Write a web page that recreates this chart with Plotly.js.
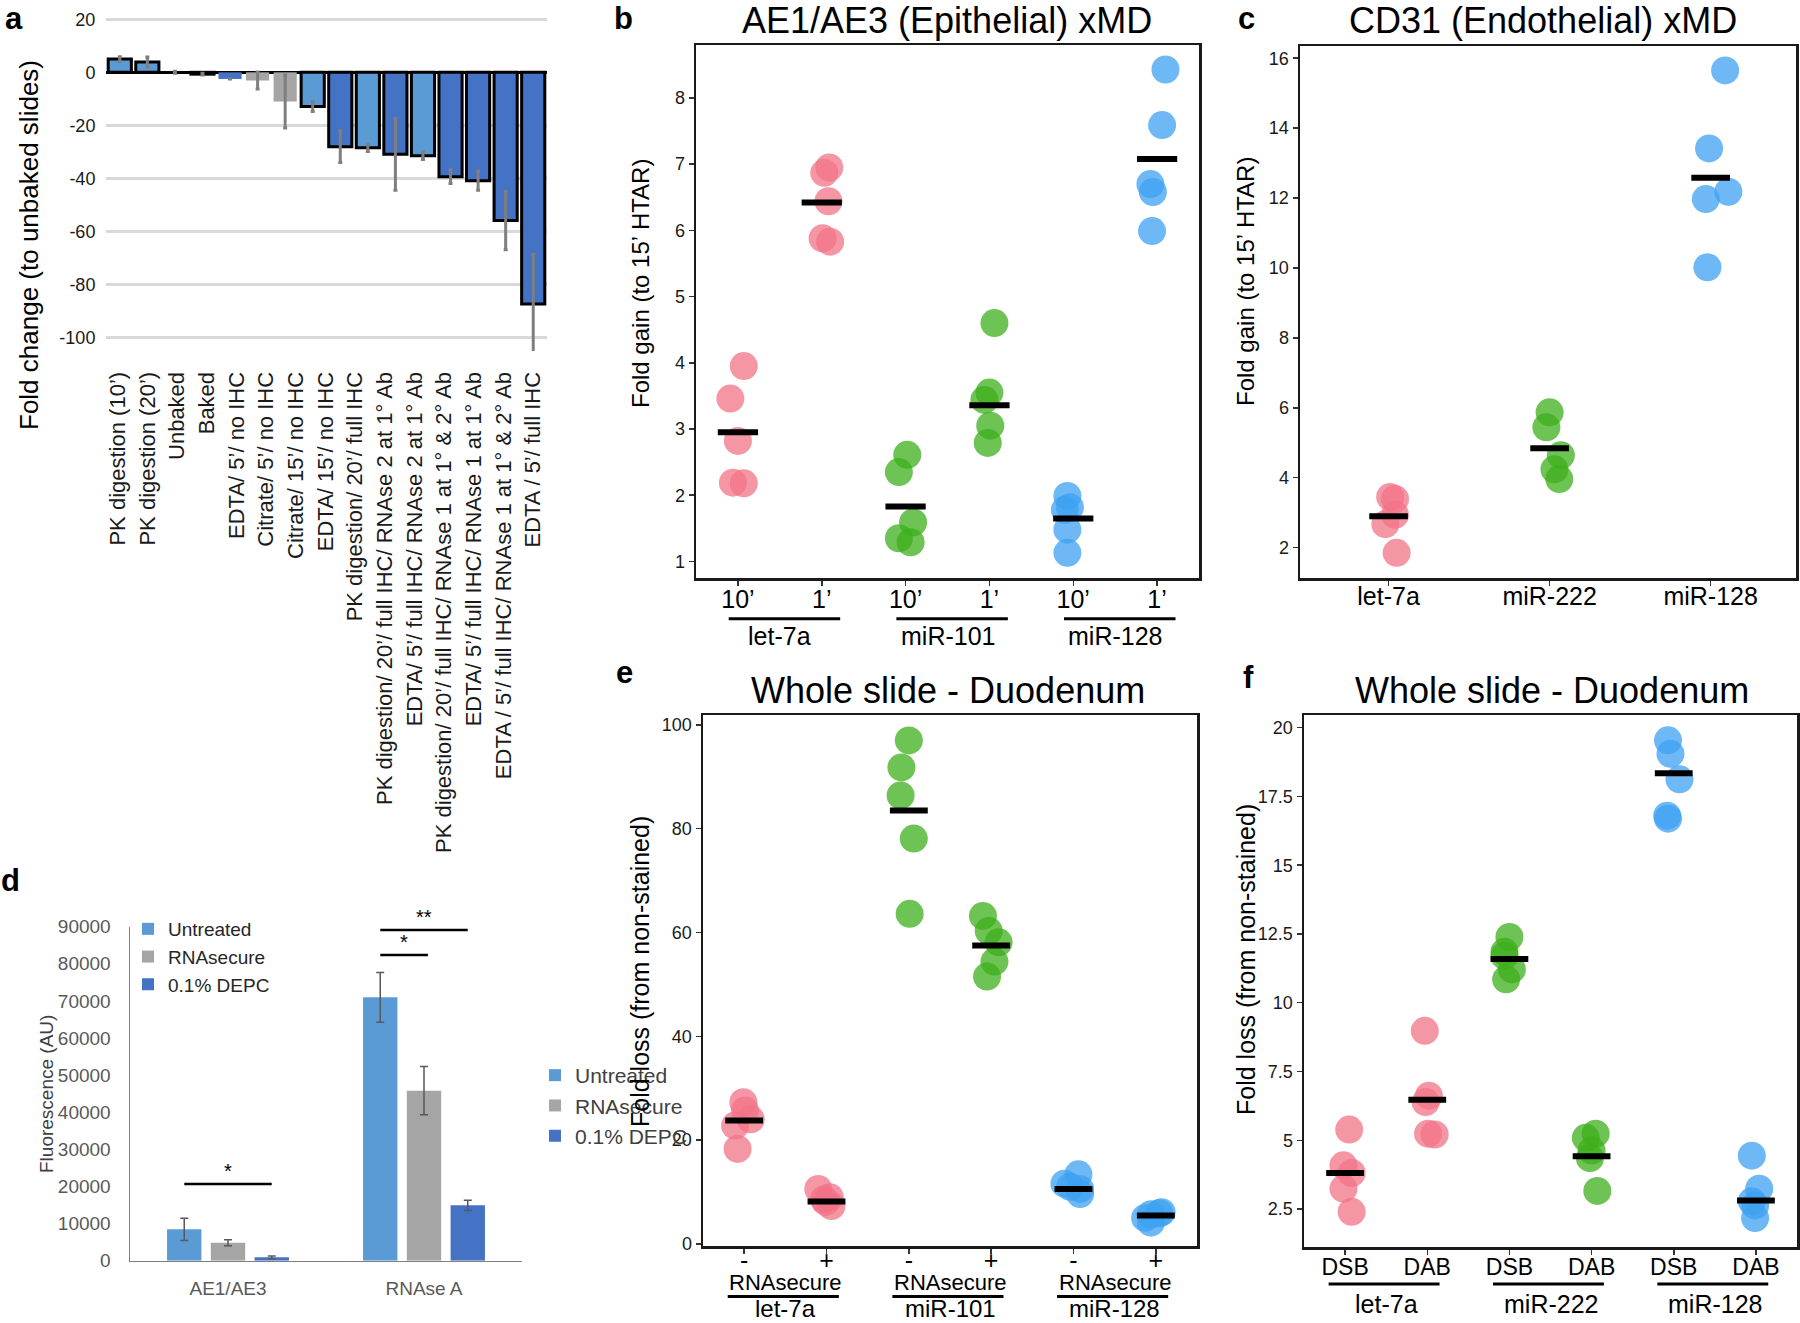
<!DOCTYPE html>
<html>
<head>
<meta charset="utf-8">
<script src="https://cdn.plot.ly/plotly-3.0.1.min.js"></script>
<style>
  html, body { margin: 0; padding: 0; background: #fff; }
  #chart { width: 1800px; height: 1323px; }
</style>
</head>
<body>
<div id="chart"></div>
<script>
var W = 1800, H = 1323;
function px(x) { return x / W; }
function py(y) { return 1 - y / H; }

// ---- a: fold change to unbaked slides ----
var labelsA = [
  "PK digestion (10’)", "PK digestion (20’)", "Unbaked", "Baked",
  "EDTA/ 5’/ no IHC", "Citrate/ 5’/ no IHC", "Citrate/ 15’/ no IHC", "EDTA/ 15’/ no IHC",
  "PK digestion/ 20’/ full IHC", "PK digestion/ 20’/ full IHC/ RNAse 2 at 1° Ab",
  "EDTA/ 5’/ full IHC/ RNAse 2 at 1° Ab", "PK digestion/ 20’/ full IHC/ RNAse 1 at 1° & 2° Ab",
  "EDTA/ 5’/ full IHC/ RNAse 1 at 1° Ab", "EDTA / 5’/ full IHC/ RNAse 1 at 1° & 2° Ab",
  "EDTA / 5’/ full IHC"
];
var valsA = [5.0, 3.9, 0, -0.7, -2.5, -3.1, -11.0, -12.9, -28.0, -28.4, -30.9, -31.4, -39.3, -40.8, -55.8, -87.3];
var errA = [0.9, 1.9, 0.4, 0.3, 0, 3.2, 10, 1.9, 6.0, 1.4, 13.5, 1.4, 2.6, 3.6, 11, 18.8];
var ticksA = [20, 0, -20, -40, -60, -80, -100];

// ---- b: AE1/AE3 xMD ----
var groupsB = ["let-7a", "miR-101", "miR-128"];
var ticksB = ["10’", "1’", "10’", "1’", "10’", "1’"];
var valsB = [
  [3.95, 3.46, 2.82, 2.19, 2.18],
  [6.95, 6.87, 6.44, 5.88, 5.83],
  [2.61, 2.35, 1.59, 1.35, 1.29],
  [4.60, 3.55, 3.44, 3.05, 2.79],
  [1.99, 1.82, 1.78, 1.48, 1.13],
  [8.43, 7.59, 6.70, 6.58, 5.99]
];
var jitB = [
  [0.07, -0.09, 0, -0.06, 0.07],
  [0.09, 0.03, 0.08, 0.01, 0.10],
  [0.02, -0.08, 0.09, -0.08, 0.06],
  [0.06, 0, -0.06, 0.01, -0.02],
  [-0.07, -0.04, -0.10, -0.07, -0.07],
  [0.10, 0.06, -0.08, -0.05, -0.06]
];
var meanB = [2.95, 6.42, 1.83, 3.36, 1.65, 7.08];

// ---- c: CD31 xMD ----
var catsC = ["let-7a", "miR-222", "miR-128"];
var valsC = [
  [3.45, 3.39, 2.94, 2.67, 1.85],
  [5.87, 5.44, 4.64, 4.24, 3.96],
  [15.65, 13.42, 12.18, 11.97, 10.02]
];
var jitC = [
  [0.01, 0.04, 0.04, -0.02, 0.05],
  [0, -0.02, 0.07, 0.03, 0.06],
  [0.09, -0.01, 0.11, -0.03, -0.02]
];
var meanC = [2.90, 4.84, 12.58];

// ---- d: fluorescence ----
var catsD = ["AE1/AE3", "RNAse A"];
var seriesD = ["Untreated", "RNAsecure", "0.1% DEPC"];
var valsD = [[8450, 70980], [4850, 45820], [900, 14910]];
var errD = [[3000, 6700], [800, 6500], [360, 1350]];

// ---- e: whole slide, RNAsecure ----
var groupsE = ["let-7a", "miR-101", "miR-128"];
var ticksE = ["-", "+", "-", "+", "-", "+"];
var valsE = [
  [27.3, 25.7, 24.0, 22.8, 18.3],
  [10.6, 9.0, 7.3, 8.1, 8.6],
  [97.0, 91.8, 86.4, 78.1, 63.6],
  [63.2, 60.3, 58.1, 54.4, 51.5],
  [13.4, 11.6, 10.6, 9.6, 11.0],
  [6.1, 5.7, 5.0, 4.1, 5.9]
];
var jitE = [
  [-0.01, 0.01, 0.08, -0.11, -0.08],
  [-0.10, 0.04, 0.06, -0.01, -0.03],
  [0, -0.09, -0.10, 0.06, 0.01],
  [-0.10, -0.03, 0.09, 0.04, -0.05],
  [0.06, -0.11, 0.08, 0.08, -0.04],
  [0.07, -0.06, -0.13, -0.06, 0.04]
];
var meanE = [23.8, 8.15, 83.5, 57.5, 10.6, 5.5];

// ---- f: whole slide, DSB vs DAB ----
var groupsF = ["let-7a", "miR-222", "miR-128"];
var ticksF = ["DSB", "DAB", "DSB", "DAB", "DSB", "DAB"];
var valsF = [
  [5.39, 4.09, 3.81, 3.24, 2.40],
  [8.98, 6.62, 6.39, 5.24, 5.21],
  [12.39, 11.85, 11.70, 11.21, 10.85],
  [5.24, 5.09, 4.62, 4.35, 3.16],
  [19.54, 19.05, 18.12, 16.80, 16.69],
  [4.44, 3.24, 2.78, 2.63, 2.17]
];
var jitF = [
  [0.05, -0.02, 0.08, -0.02, 0.08],
  [-0.03, 0.02, -0.02, 0.01, 0.09],
  [0, -0.06, -0.06, 0.03, -0.04],
  [0.05, -0.07, 0, -0.02, 0.07],
  [-0.07, -0.04, 0.07, -0.08, -0.07],
  [-0.05, 0.04, -0.05, -0.01, -0.01]
];
var meanF = [3.81, 6.47, 11.59, 4.42, 18.34, 2.81];

// styles
var LIGHT = "#5B9BD5", DARK = "#4472C4", GRAY = "#A5A5A5";
var fillA = [LIGHT, LIGHT, GRAY, DARK, DARK, GRAY, GRAY, LIGHT, DARK, LIGHT, DARK, LIGHT, DARK, DARK, DARK, DARK];
var edgeA = [3, 3, 0, 3, 0, 0, 0, 3, 3, 3, 3, 3, 3, 3, 3, 3];
var colorsD = [LIGHT, GRAY, DARK];
var PINK = "rgb(241,115,135)", GREEN = "rgb(61,175,28)", BLUE = "rgb(61,161,241)";
var trio = [PINK, GREEN, BLUE];
var FONT = "Liberation Sans, Arial, sans-serif";

var traces = [];

// a: bars on an index axis, labels on their own overlay axis
traces.push({
  type: "bar", x: valsA.map(function (_, i) { return i + 1; }), y: valsA,
  xaxis: "x", yaxis: "y", width: 0.84, showlegend: false,
  marker: { color: fillA, line: { color: "#000", width: edgeA } },
  error_y: { type: "data", array: errA, color: "#7F7F7F", thickness: 3, width: 2 }
});
traces.push({
  type: "scatter", mode: "markers", x: labelsA, y: labelsA.map(function () { return null; }),
  xaxis: "x2", yaxis: "y", showlegend: false, hoverinfo: "skip"
});

function dots(vals, jit, means, colorOf, xa, ya, half) {
  var out = [];
  vals.forEach(function (v, i) {
    out.push({
      type: "scatter", mode: "markers",
      x: v.map(function (_, j) { return i + 1 + jit[i][j]; }), y: v,
      xaxis: xa, yaxis: ya, showlegend: false,
      marker: { size: 28, color: colorOf(i), opacity: 0.75, line: { width: 0 } }
    });
  });
  var mx = [], my = [];
  means.forEach(function (m, i) {
    mx.push(i + 1 - half, i + 1 + half, null);
    my.push(m, m, null);
  });
  out.push({
    type: "scatter", mode: "lines", x: mx, y: my, xaxis: xa, yaxis: ya,
    showlegend: false, hoverinfo: "skip", line: { color: "#000", width: 6 }
  });
  return out;
}
function pairColor(i) { return trio[Math.floor(i / 2)]; }

traces = traces.concat(dots(valsB, jitB, meanB, pairColor, "x3", "y3", 0.24));
traces = traces.concat(dots(valsC, jitC, meanC, function (i) { return trio[i]; }, "x4", "y4", 0.12));
traces = traces.concat(dots(valsE, jitE, meanE, pairColor, "x6", "y6", 0.23));
traces = traces.concat(dots(valsF, jitF, meanF, pairColor, "x7", "y7", 0.23));

// d: grouped bars + a second (duplicated) legend
seriesD.forEach(function (s, i) {
  traces.push({
    type: "bar", name: s, x: catsD, y: valsD[i], xaxis: "x5", yaxis: "y5",
    marker: { color: colorsD[i] }, legend: "legend",
    error_y: { type: "data", array: errD[i], color: "#595959", thickness: 1.5, width: 4 }
  });
  traces.push({
    type: "bar", name: s, x: [null], y: [null], xaxis: "x8", yaxis: "y8",
    marker: { color: colorsD[i] }, legend: "legend2"
  });
});

function boxAxis(domain, range, anchor, extra) {
  var a = {
    domain: domain, range: range, anchor: anchor,
    showline: true, mirror: true, linecolor: "#1a1a1a", linewidth: 2.5,
    ticks: "outside", ticklen: 5, tickwidth: 1.5, tickcolor: "#333",
    showgrid: false, zeroline: false, tickfont: { size: 18, color: "#1a1a1a" }
  };
  for (var k in extra) a[k] = extra[k];
  return a;
}
function catTicks(text, size, standoff) {
  return { tickmode: "array", tickvals: text.map(function (_, i) { return i + 1; }), ticktext: text,
           tickfont: { size: size, color: "#000" }, ticklabelstandoff: standoff };
}

var domB = [[px(696), px(1199)], [py(578), py(45)]];
var domC = [[px(1300), px(1796)], [py(578), py(46)]];
var domE = [[px(703), px(1197)], [py(1246), py(715)]];
var domF = [[px(1304), px(1797)], [py(1247), py(715)]];

var layout = {
  width: W, height: H, margin: { l: 0, r: 0, t: 0, b: 0 },
  paper_bgcolor: "#fff", plot_bgcolor: "rgba(0,0,0,0)",
  font: { family: FONT, color: "#1a1a1a" },
  barmode: "group", bargap: 0.33, bargroupgap: 0.215,
  showlegend: true,
  legend: { x: px(128), y: py(910), xanchor: "left", yanchor: "top", bgcolor: "rgba(0,0,0,0)",
            font: { size: 19, color: "#262626" } },
  legend2: { x: px(535), y: py(1055), xanchor: "left", yanchor: "top", bgcolor: "rgba(0,0,0,0)",
             font: { size: 21, color: "#404040" } },

  // a
  xaxis: { domain: [px(106), px(547)], anchor: "y", range: [0.5, 16.5], showticklabels: false,
           showgrid: false, zeroline: false, showline: false, ticks: "" },
  xaxis2: { overlaying: "x", anchor: "y", type: "category", range: [-0.405, 14.47], tickangle: -90,
            ticks: "outside", ticklen: 11, tickcolor: "rgba(0,0,0,0)", showgrid: false, zeroline: false,
            showline: false, tickfont: { size: 22, color: "#1a1a1a" } },
  yaxis: { domain: [py(351.1), py(13.9)], anchor: "x", range: [-105, 22],
           tickmode: "array", tickvals: ticksA, ticktext: ticksA.map(String),
           showgrid: true, gridcolor: "#D9D9D9", gridwidth: 3,
           zeroline: true, zerolinecolor: "#000", zerolinewidth: 3, showline: false,
           ticks: "outside", ticklen: 6, tickcolor: "rgba(0,0,0,0)", tickfont: { size: 18, color: "#1a1a1a" } },

  // b
  xaxis3: boxAxis(domB[0], [0.5, 6.5], "y3", catTicks(ticksB, 25, -8)),
  yaxis3: boxAxis(domB[1], [0.75, 8.8], "x3", { dtick: 1 }),
  // c
  xaxis4: boxAxis(domC[0], [0.45, 3.53], "y4", catTicks(catsC, 25, -11)),
  yaxis4: boxAxis(domC[1], [1.13, 16.35], "x4", { dtick: 2 }),
  // d
  xaxis5: { domain: [px(130), px(522)], anchor: "y5", type: "category", showline: true, linecolor: "#7F7F7F",
            linewidth: 1.5, ticks: "outside", ticklen: 10, tickcolor: "rgba(0,0,0,0)", showgrid: false,
            tickfont: { size: 19, color: "#595959" } },
  yaxis5: { domain: [py(1260.7), py(926.7)], anchor: "x5", range: [0, 90000], dtick: 10000, tickformat: "d",
            showline: true, linecolor: "#7F7F7F", linewidth: 1.5, showgrid: false, zeroline: false,
            ticks: "outside", ticklen: 14, tickcolor: "rgba(0,0,0,0)", tickfont: { size: 19, color: "#595959" } },
  // e
  xaxis6: boxAxis(domE[0], [0.5, 6.5], "y6", catTicks(ticksE, 25, -15)),
  yaxis6: boxAxis(domE[1], [-0.4, 101.9], "x6", { dtick: 20 }),
  // f
  xaxis7: boxAxis(domF[0], [0.5, 6.5], "y7", catTicks(ticksF, 23, -7)),
  yaxis7: boxAxis(domF[1], [1.12, 20.46], "x7", { dtick: 2.5 }),
  // holder for the second legend's entries
  xaxis8: { domain: [0, 0.01], anchor: "y8", visible: false },
  yaxis8: { domain: [0, 0.01], anchor: "x8", visible: false },

  annotations: [],
  shapes: []
};

function note(text, x, y, size, extra) {
  var a = { text: text, x: px(x), y: py(y), xref: "paper", yref: "paper", showarrow: false,
            xanchor: "center", yanchor: "middle", font: { size: size, color: "#000", family: FONT } };
  for (var k in extra) a[k] = extra[k];
  layout.annotations.push(a);
}

// panel letters
[["a", 14, 18], ["b", 623, 18], ["c", 1246, 18], ["d", 10, 880], ["e", 624, 672], ["f", 1248, 677]]
  .forEach(function (l) { note("<b>" + l[0] + "</b>", l[1], l[2], 31); });

// titles
note("AE1/AE3 (Epithelial) xMD", 947, 21, 36);
note("CD31 (Endothelial) xMD", 1543, 21, 36);
note("Whole slide - Duodenum", 948, 690, 36);
note("Whole slide - Duodenum", 1552, 690, 36);

// y titles
note("Fold change (to unbaked slides)", 29, 245, 26, { textangle: -90 });
note("Fold gain (to 15’ HTAR)", 640, 284, 24, { textangle: -90 });
note("Fold gain (to 15’ HTAR)", 1246, 282, 24, { textangle: -90 });
note("Fluorescence (AU)", 46, 1094, 19, { textangle: -90, font: { size: 19, color: "#404040", family: FONT } });
note("Fold loss (from non-stained)", 640, 972, 25, { textangle: -90 });
note("Fold loss (from non-stained)", 1246, 960, 25, { textangle: -90 });

// group underlines and names for b, e, f
function groupRows(groups, xa, lineY, nameY, lo, hi, size) {
  groups.forEach(function (g, k) {
    var first = 2 * k + 1;
    layout.shapes.push({ type: "line", xref: xa, yref: "paper", x0: first - lo, x1: first + 1 + hi,
                         y0: py(lineY), y1: py(lineY), line: { color: "#000", width: 3 } });
    layout.annotations.push({ text: g, xref: xa, yref: "paper", x: first + 0.5, y: py(nameY),
                              showarrow: false, xanchor: "center", yanchor: "middle",
                              font: { size: size, color: "#000", family: FONT } });
  });
}
groupRows(groupsB, "x3", 618.7, 636, 0.11, 0.22, 25);
groupRows(groupsE, "x6", 1296.5, 1308.5, 0.2, 0.15, 24);
groupRows(groupsF, "x7", 1284, 1304, 0.2, 0.15, 25);
groupsE.forEach(function (_, k) {
  layout.annotations.push({ text: "RNAsecure", xref: "x6", yref: "paper", x: 2 * k + 1.5, y: py(1282),
                            showarrow: false, xanchor: "center", yanchor: "middle",
                            font: { size: 22, color: "#000", family: FONT } });
});

// d significance brackets
[[-0.223, 0.223, 20700, "*"], [0.777, 1.02, 82400, "*"], [0.777, 1.223, 89100, "**"]].forEach(function (s) {
  layout.shapes.push({ type: "line", xref: "x5", yref: "y5", x0: s[0], x1: s[1], y0: s[2], y1: s[2],
                       line: { color: "#000", width: 2.5 } });
  layout.annotations.push({ text: s[3], xref: "x5", yref: "y5", x: (s[0] + s[1]) / 2, y: s[2],
                            yanchor: "bottom", showarrow: false, font: { size: 20, color: "#000", family: FONT } });
});

Plotly.newPlot("chart", traces, layout, { staticPlot: true });
</script>
</body>
</html>
